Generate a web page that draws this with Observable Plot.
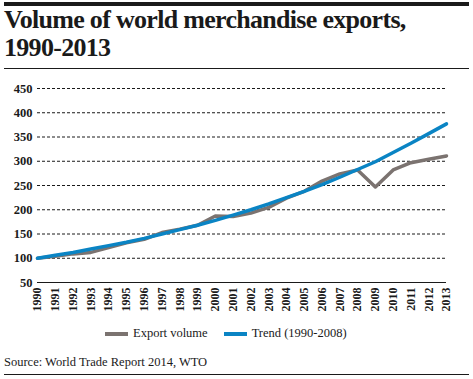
<!DOCTYPE html>
<html><head><meta charset="utf-8">
<script src="https://cdn.jsdelivr.net/npm/d3@7"></script>
<script src="https://cdn.jsdelivr.net/npm/@observablehq/plot@0.6"></script>
<style>
body{margin:0;background:#fff;}
#wrap{position:relative;width:473px;height:379px;font-family:"Liberation Serif","DejaVu Serif",serif;color:#1a1a1a;}
#topbar{position:absolute;left:4px;top:2px;width:465px;height:4px;background:#1a1a1a;}
#title{position:absolute;left:4px;top:6px;font-size:26px;font-weight:bold;line-height:28px;letter-spacing:-0.7px;color:#1a1a1a;}
#rule1{position:absolute;left:4px;top:68px;width:465px;height:1px;background:#1a1a1a;}
#chart{position:absolute;left:0;top:78px;}
#legend{position:absolute;left:105px;top:326px;font-size:12.5px;display:flex;align-items:center;}
.sw{display:inline-block;width:23px;height:4px;margin-right:5px;}
#source{position:absolute;left:4px;top:355px;font-size:12.5px;}
#rule2{position:absolute;left:4px;top:374px;width:465px;height:1px;background:#1a1a1a;}
</style></head>
<body>
<div id="wrap">
<div id="topbar"></div>
<div id="title">Volume of world merchandise exports,<br>1990-2013</div>
<div id="rule1"></div>
<div id="chart"></div>
<div id="legend"><span class="sw" style="background:#7b7370"></span><span>Export volume</span><span class="sw" style="background:#0a84c4;margin-left:16px"></span><span>Trend (1990-2008)</span></div>
<div id="source">Source: World Trade Report 2014, WTO</div>
<div id="rule2"></div>
</div>
<script>
const years = [1990,1991,1992,1993,1994,1995,1996,1997,1998,1999,2000,2001,2002,2003,2004,2005,2006,2007,2008,2009,2010,2011,2012,2013];
const exportVolume = [100,104,109,112,122,132,139,153,160,168,187,186,193,205,224,238,259,274,282,247,282,297,304,311];
const trend = [100,106,112,119,126,133,141,150,159,168,178,189,200,212,225,238,252,267,283,299,318,337,357,377];
const yTicks = [50,100,150,200,250,300,350,400,450];

const exportData = years.map((y,i)=>({year:y, value:exportVolume[i]}));
const trendData = years.map((y,i)=>({year:y, value:trend[i]}));

const plot = Plot.plot({
  width:473, height:240,
  marginTop:10, marginBottom:36, marginLeft:37, marginRight:27,
  style:{fontFamily:'"Liberation Serif","DejaVu Serif",serif', fontSize:"12px", color:"#1a1a1a", background:"transparent"},
  x:{domain:[1990,2013]},
  y:{domain:[50,450]},
  marks:[
    Plot.ruleY(yTicks.filter(d=>d>50), {stroke:"#1a1a1a", strokeDasharray:"3,2", strokeWidth:1}),
    Plot.ruleY([50], {stroke:"#1a1a1a", strokeWidth:1.2}),
    Plot.axisY({ticks:yTicks, tickSize:0, tickPadding:5, tickFormat:d=>String(d), fontWeight:"bold", fontSize:12.5, label:null}),
    Plot.axisX({ticks:years, tickSize:0, tickPadding:5, tickRotate:-90, tickFormat:d=>String(d), fontWeight:"bold", fontSize:12, label:null}),
    Plot.line(exportData, {x:"year", y:"value", stroke:"#7b7370", strokeWidth:3.5}),
    Plot.line(trendData, {x:"year", y:"value", stroke:"#0a84c4", strokeWidth:3.5})
  ]
});
document.getElementById("chart").appendChild(plot);
</script>
</body></html>
